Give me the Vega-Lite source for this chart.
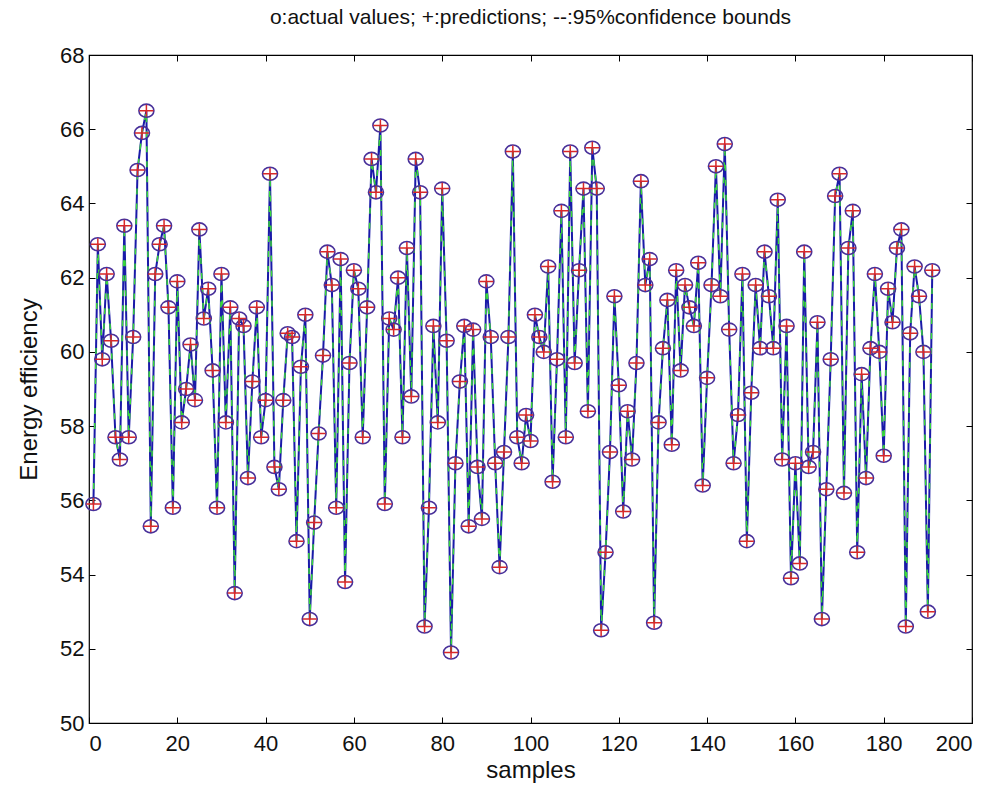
{
  "$schema": "https://vega.github.io/schema/vega-lite/v6.json",
  "autosize": "none",
  "width": 883,
  "height": 668,
  "padding": {"left": 89, "top": 55, "right": 23, "bottom": 72},
  "background": "white",
  "config": {
    "view": {"stroke": "#000", "strokeWidth": 1.2},
    "font": "Liberation Sans",
    "axis": {"grid": false, "domain": false, "labelFont": "Liberation Sans", "titleFont": "Liberation Sans", "labelColor": "#111", "titleColor": "#111", "tickColor": "#000", "labelFontSize": 22, "titleFontSize": 24, "titleFontWeight": "normal"}
  },
  "title": {"text": "o:actual values; +:predictions; --:95%confidence bounds", "fontSize": 21, "fontWeight": "normal", "font": "Liberation Sans", "color": "#111", "offset": 16, "anchor": "middle"},
  "data": {"values": [
{"s":1,"v":55.9},{"s":2,"v":62.9},{"s":3,"v":59.8},{"s":4,"v":62.1},{"s":5,"v":60.3},{"s":6,"v":57.7},{"s":7,"v":57.1},{"s":8,"v":63.4},{"s":9,"v":57.7},{"s":10,"v":60.4},
{"s":11,"v":64.9},{"s":12,"v":65.9},{"s":13,"v":66.5},{"s":14,"v":55.3},{"s":15,"v":62.1},{"s":16,"v":62.9},{"s":17,"v":63.4},{"s":18,"v":61.2},{"s":19,"v":55.8},{"s":20,"v":61.9},
{"s":21,"v":58.1},{"s":22,"v":59.0},{"s":23,"v":60.2},{"s":24,"v":58.7},{"s":25,"v":63.3},{"s":26,"v":60.9},{"s":27,"v":61.7},{"s":28,"v":59.5},{"s":29,"v":55.8},{"s":30,"v":62.1},
{"s":31,"v":58.1},{"s":32,"v":61.2},{"s":33,"v":53.5},{"s":34,"v":60.9},{"s":35,"v":60.7},{"s":36,"v":56.6},{"s":37,"v":59.2},{"s":38,"v":61.2},{"s":39,"v":57.7},{"s":40,"v":58.7},
{"s":41,"v":64.8},{"s":42,"v":56.9},{"s":43,"v":56.3},{"s":44,"v":58.7},{"s":45,"v":60.5},{"s":46,"v":60.4},{"s":47,"v":54.9},{"s":48,"v":59.6},{"s":49,"v":61.0},{"s":50,"v":52.8},
{"s":51,"v":55.4},{"s":52,"v":57.8},{"s":53,"v":59.9},{"s":54,"v":62.7},{"s":55,"v":61.8},{"s":56,"v":55.8},{"s":57,"v":62.5},{"s":58,"v":53.8},{"s":59,"v":59.7},{"s":60,"v":62.2},
{"s":61,"v":61.7},{"s":62,"v":57.7},{"s":63,"v":61.2},{"s":64,"v":65.2},{"s":65,"v":64.3},{"s":66,"v":66.1},{"s":67,"v":55.9},{"s":68,"v":60.9},{"s":69,"v":60.6},{"s":70,"v":62.0},
{"s":71,"v":57.7},{"s":72,"v":62.8},{"s":73,"v":58.8},{"s":74,"v":65.2},{"s":75,"v":64.3},{"s":76,"v":52.6},{"s":77,"v":55.8},{"s":78,"v":60.7},{"s":79,"v":58.1},{"s":80,"v":64.4},
{"s":81,"v":60.3},{"s":82,"v":51.9},{"s":83,"v":57.0},{"s":84,"v":59.2},{"s":85,"v":60.7},{"s":86,"v":55.3},{"s":87,"v":60.6},{"s":88,"v":56.9},{"s":89,"v":55.5},{"s":90,"v":61.9},
{"s":91,"v":60.4},{"s":92,"v":57.0},{"s":93,"v":54.2},{"s":94,"v":57.3},{"s":95,"v":60.4},{"s":96,"v":65.4},{"s":97,"v":57.7},{"s":98,"v":57.0},{"s":99,"v":58.3},{"s":100,"v":57.6},
{"s":101,"v":61.0},{"s":102,"v":60.4},{"s":103,"v":60.0},{"s":104,"v":62.3},{"s":105,"v":56.5},{"s":106,"v":59.8},{"s":107,"v":63.8},{"s":108,"v":57.7},{"s":109,"v":65.4},{"s":110,"v":59.7},
{"s":111,"v":62.2},{"s":112,"v":64.4},{"s":113,"v":58.4},{"s":114,"v":65.5},{"s":115,"v":64.4},{"s":116,"v":52.5},{"s":117,"v":54.6},{"s":118,"v":57.3},{"s":119,"v":61.5},{"s":120,"v":59.1},
{"s":121,"v":55.7},{"s":122,"v":58.4},{"s":123,"v":57.1},{"s":124,"v":59.7},{"s":125,"v":64.6},{"s":126,"v":61.8},{"s":127,"v":62.5},{"s":128,"v":52.7},{"s":129,"v":58.1},{"s":130,"v":60.1},
{"s":131,"v":61.4},{"s":132,"v":57.5},{"s":133,"v":62.2},{"s":134,"v":59.5},{"s":135,"v":61.8},{"s":136,"v":61.2},{"s":137,"v":60.7},{"s":138,"v":62.4},{"s":139,"v":56.4},{"s":140,"v":59.3},
{"s":141,"v":61.8},{"s":142,"v":65.0},{"s":143,"v":61.5},{"s":144,"v":65.6},{"s":145,"v":60.6},{"s":146,"v":57.0},{"s":147,"v":58.3},{"s":148,"v":62.1},{"s":149,"v":54.9},{"s":150,"v":58.9},
{"s":151,"v":61.8},{"s":152,"v":60.1},{"s":153,"v":62.7},{"s":154,"v":61.5},{"s":155,"v":60.1},{"s":156,"v":64.1},{"s":157,"v":57.1},{"s":158,"v":60.7},{"s":159,"v":53.9},{"s":160,"v":57.0},
{"s":161,"v":54.3},{"s":162,"v":62.7},{"s":163,"v":56.9},{"s":164,"v":57.3},{"s":165,"v":60.8},{"s":166,"v":52.8},{"s":167,"v":56.3},{"s":168,"v":59.8},{"s":169,"v":64.2},{"s":170,"v":64.8},
{"s":171,"v":56.2},{"s":172,"v":62.8},{"s":173,"v":63.8},{"s":174,"v":54.6},{"s":175,"v":59.4},{"s":176,"v":56.6},{"s":177,"v":60.1},{"s":178,"v":62.1},{"s":179,"v":60.0},{"s":180,"v":57.2},
{"s":181,"v":61.7},{"s":182,"v":60.8},{"s":183,"v":62.8},{"s":184,"v":63.3},{"s":185,"v":52.6},{"s":186,"v":60.5},{"s":187,"v":62.3},{"s":188,"v":61.5},{"s":189,"v":60.0},{"s":190,"v":53.0},
{"s":191,"v":62.2}
  ]},
  "layer": [
    {
      "mark": {"type": "line", "color": "#1a1aa8", "strokeWidth": 2},
      "encoding": {
        "x": {"field": "s", "type": "quantitative", "scale": {"domain": [0, 200], "nice": false}, "axis": {"orient": "bottom", "title": "samples", "values": [0,20,40,60,80,100,120,140,160,180,200], "tickSize": -6, "labelPadding": 16, "titlePadding": 4}},
        "y": {"field": "v", "type": "quantitative", "scale": {"domain": [50, 68], "nice": false, "zero": false}, "axis": {"orient": "left", "title": "Energy efficiency", "values": [50,52,54,56,58,60,62,64,66,68], "tickSize": -6, "labelPadding": 11, "titlePadding": 18}}
      }
    },
    {
      "mark": {"type": "line", "color": "#3ad83a", "strokeWidth": 1.5, "strokeDash": [6, 9]},
      "encoding": {
        "x": {"field": "s", "type": "quantitative", "scale": {"domain": [0, 200], "nice": false}, "axis": {"orient": "top", "title": null, "labels": false, "values": [0,20,40,60,80,100,120,140,160,180,200], "tickSize": -6}},
        "y": {"field": "v", "type": "quantitative", "scale": {"domain": [50, 68], "nice": false, "zero": false}, "axis": {"orient": "right", "title": null, "labels": false, "values": [50,52,54,56,58,60,62,64,66,68], "tickSize": -6}}
      }
    },
    {
      "mark": {"type": "point", "shape": "M-1,0A1,0.87,0,1,1,1,0A1,0.87,0,1,1,-1,0Z", "size": 225, "filled": false, "stroke": "#48309a", "strokeWidth": 1.6, "opacity": 1},
      "encoding": {
        "x": {"field": "s", "type": "quantitative", "axis": null},
        "y": {"field": "v", "type": "quantitative", "axis": null}
      }
    },
    {
      "mark": {"type": "point", "shape": "M-1,0L1,0M0,-0.85L0,0.85", "size": 196, "filled": false, "stroke": "#d82828", "strokeWidth": 1.5, "opacity": 1},
      "encoding": {
        "x": {"field": "s", "type": "quantitative", "axis": null},
        "y": {"field": "v", "type": "quantitative", "axis": null}
      }
    }
  ],
  "resolve": {"axis": {"x": "independent", "y": "independent"}}
}
